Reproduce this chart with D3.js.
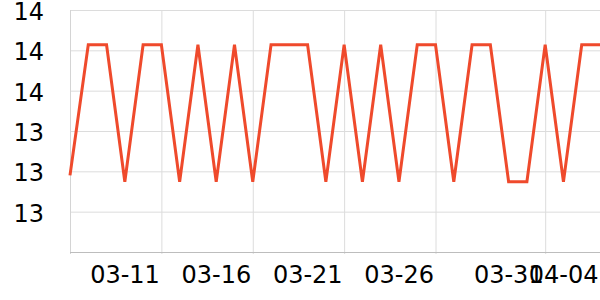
<!DOCTYPE html>
<html>
<head>
<meta charset="utf-8">
<script src="https://cdn.jsdelivr.net/npm/d3@7"></script>
<style>
  body { margin: 0; background: #fff; }
  text { font-family: "DejaVu Sans", sans-serif; }
  .grid line { stroke: #dcdcdc; stroke-width: 1; }
  .grid path { display: none; }
  .labels path, .labels line { display: none; }
  .labels text { font-size: 24px; fill: #000; }
</style>
</head>
<body>
<svg id="chart" width="600" height="300"></svg>
<script>
let dates = [
  '03-06', '03-07', '03-08', '03-09', '03-10', '03-11', '03-12', '03-13', '03-14', '03-15',
  '03-16', '03-17', '03-18', '03-19', '03-20', '03-21', '03-22', '03-23', '03-24', '03-25',
  '03-26', '03-27', '03-28', '03-29', '03-30', '03-31', '04-01', '04-02', '04-03', '04-04'
];
let values = [
  13.29, 13.614, 13.614, 13.274, 13.614, 13.614, 13.274, 13.614, 13.274, 13.614,
  13.274, 13.614, 13.614, 13.614, 13.274, 13.614, 13.274, 13.614, 13.274, 13.614,
  13.614, 13.274, 13.614, 13.614, 13.274, 13.274, 13.614, 13.274, 13.614, 13.614
];
let gridDates = ['03-11', '03-16', '03-21', '03-26', '04-01'];
let labelDates = ['03-11', '03-16', '03-21', '03-26', '04-01', '04-04'];
let xTickLabels = ['03-11', '03-16', '03-21', '03-26', '03-31', '04-04'];
let yTicks = [13.2, 13.3, 13.4, 13.5, 13.6, 13.7];
let yTickLabels = ['13', '13', '13', '14', '14', '14'];

let parse = s => new Date(Date.UTC(2024, +s.slice(0, 2) - 1, +s.slice(3)));

let mLeft = 70, mRight = 600, mTop = 10, mBottom = 252;

let x = d3.scaleUtc()
    .domain([parse(dates[0]), parse(dates[dates.length - 1])])
    .range([mLeft, mRight]);
let y = d3.scaleLinear().domain([13.1, 13.7]).range([mBottom, mTop]);

let svg = d3.select('#chart');

// vertical grid
svg.append('g')
    .attr('class', 'grid')
    .attr('transform', `translate(0, ${mBottom})`)
    .call(d3.axisBottom(x)
        .tickValues(gridDates.map(parse))
        .tickSizeInner(-(mBottom - mTop))
        .tickSizeOuter(0)
        .tickFormat(''))
    .selectAll('line').attr('y1', 2);

// horizontal grid
svg.append('g')
    .attr('class', 'grid')
    .attr('transform', `translate(${mLeft}, 0)`)
    .call(d3.axisLeft(y)
        .tickValues(yTicks)
        .tickSizeInner(-(mRight - mLeft))
        .tickSizeOuter(0)
        .tickFormat(''));

// axis lines
svg.append('line')
    .attr('x1', mLeft + 0.5).attr('x2', mLeft + 0.5)
    .attr('y1', mTop).attr('y2', mBottom + 2)
    .attr('stroke', '#d4d4d4');
svg.append('line')
    .attr('x1', mLeft).attr('x2', mRight)
    .attr('y1', mBottom + 0.5).attr('y2', mBottom + 0.5)
    .attr('stroke', '#bdbdbd');

// y labels
svg.append('g')
    .attr('class', 'labels')
    .attr('transform', `translate(${mLeft}, 0)`)
    .call(d3.axisLeft(y)
        .tickValues(yTicks)
        .tickSize(0)
        .tickPadding(26)
        .tickFormat((d, i) => yTickLabels[i]))
    .selectAll('text').attr('dy', '0.4em');

// x labels
svg.append('g')
    .attr('class', 'labels')
    .attr('transform', `translate(0, ${mBottom})`)
    .call(d3.axisBottom(x)
        .tickValues(labelDates.map(parse))
        .tickSize(0)
        .tickPadding(0)
        .tickFormat((d, i) => xTickLabels[i]))
    .selectAll('text')
    .attr('text-anchor', 'end')
    .attr('dx', -2)
    .attr('dy', 0)
    .attr('y', 31);

let line = d3.line()
    .x((d, i) => x(parse(dates[i])))
    .y(d => y(d));

svg.append('path')
    .datum(values)
    .attr('fill', 'none')
    .attr('stroke', '#ef4a2c')
    .attr('stroke-width', 3)
    .attr('stroke-linejoin', 'miter')
    .attr('d', line);
</script>
</body>
</html>
